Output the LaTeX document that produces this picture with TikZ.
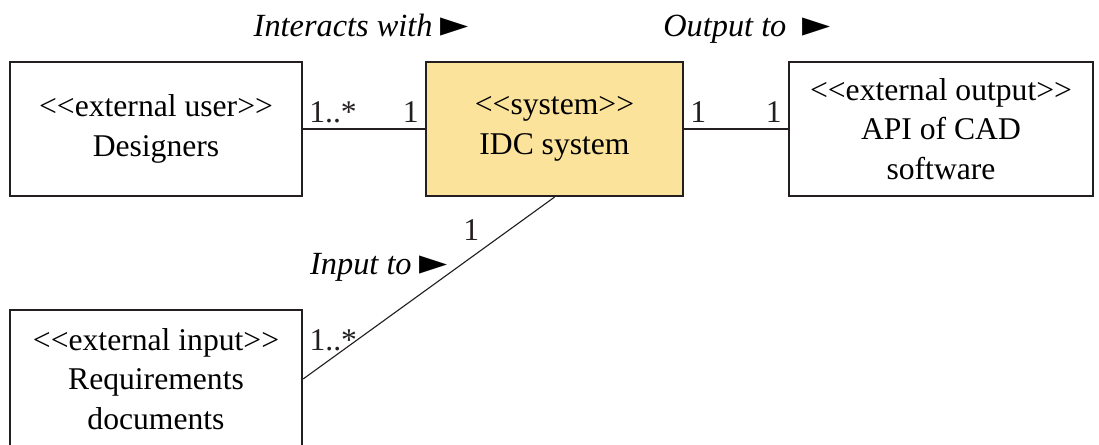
\documentclass[tikz,border=0pt]{standalone}
\usepackage{fontspec}
\setmainfont{Liberation Serif}
\newfontfamily\symbfont{DejaVu Sans}
\definecolor{sysyellow}{RGB}{251,227,155}
\definecolor{boxline}{RGB}{35,31,32}
\newcommand{\assocdir}{{\symbfont\fontsize{26}{26}\selectfont ►}}
\newcommand{\stereo}[1]{<{}<#1>{}>}
\begin{document}
\begin{tikzpicture}[every node/.append style={font=\fontsize{22.5}{28}\selectfont},
  box/.style={draw=boxline,line width=1.6pt,align=center,minimum height=3.35cm,inner sep=0pt},
  mult/.style={inner sep=4pt},
  assoc/.style={font=\fontsize{23}{28}\selectfont\itshape,anchor=base}]
\useasboundingbox (0,0) rectangle (27.475,11.1);
\node[box,minimum width=7.3cm] (des) at (3.9,7.875) {\stereo{external user}\\Designers};
\node[box,minimum width=6.425cm,fill=sysyellow] (idc) at (13.8625,7.875) {\stereo{system}\\IDC system};
\node[box,minimum width=7.6cm] (out) at (23.525,7.875) {\stereo{external output}\\API of CAD\\software};
\node[box,minimum width=7.3cm,minimum height=3.45cm] (inp) at (3.9,1.625) {\stereo{external input}\\Requirements\\documents};
\draw[line width=0.8pt,color=boxline] (des) -- node[mult,pos=0,above right]{1..*} node[mult,pos=1,above left]{1} (idc);
\draw[line width=0.8pt,color=boxline] (idc) -- node[mult,pos=0,above right]{1} node[mult,pos=1,above left]{1} (out);
\draw[line width=0.8pt,color=boxline] (inp.east) -- node[mult,pos=0.12,above]{1..*} node[mult,pos=0.82,left=6mm]{1} (idc.south);
\node[assoc] (iw) at (9.03,10.2) {Interacts with \assocdir};
\node[assoc] (ot) at (18.675,10.2) {Output to\ \ \assocdir};
\node[assoc] (it) at (9.475,4.25) {Input to \assocdir};
\end{tikzpicture}
\end{document}
